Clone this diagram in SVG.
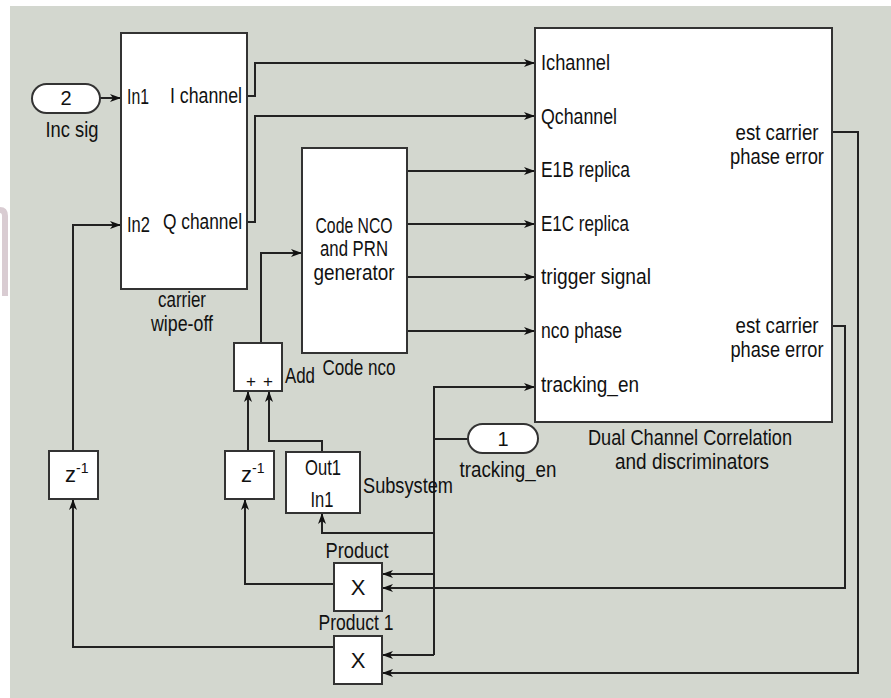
<svg xmlns="http://www.w3.org/2000/svg" width="891" height="698" viewBox="0 0 891 698">
<style>
text{font-family:"Liberation Sans",Arial,sans-serif;font-size:22px;fill:#111;}
.blk{fill:#fff;stroke:#333;stroke-width:2;}
.w{fill:none;stroke:#222;stroke-width:2;}
.mid{text-anchor:middle;}
.end{text-anchor:end;}
.sup{font-size:14px;}
.pl{font-size:17px;text-anchor:middle;}
</style>
<defs>
<marker id="ah" markerUnits="userSpaceOnUse" markerWidth="12" markerHeight="10" refX="11" refY="4" orient="auto">
<path d="M0,0 L11,4 L0,8 L3,4 z" fill="#111"/>
</marker>
</defs>
<rect x="0" y="0" width="891" height="698" fill="#fff"/>
<path d="M0,210 Q5,210 5,216 L5,296" fill="none" stroke="#d9ccd2" stroke-width="6"/>
<rect x="10" y="6" width="881" height="692" fill="#d3d7cf"/>

<g id="connectors">
<path class="w" d="M100,98 L121,98" marker-end="url(#ah)"/>
<path class="w" d="M247,96 L255,96 L255,63 L535,63" marker-end="url(#ah)"/>
<path class="w" d="M247,222 L255,222 L255,116 L535,116" marker-end="url(#ah)"/>
<path class="w" d="M407,171 L535,171" marker-end="url(#ah)"/>
<path class="w" d="M407,224 L535,224" marker-end="url(#ah)"/>
<path class="w" d="M407,277 L535,277" marker-end="url(#ah)"/>
<path class="w" d="M407,331 L535,331" marker-end="url(#ah)"/>
<path class="w" d="M468,439 L434,439"/>
<path class="w" d="M434,655 L434,387 L535,387" marker-end="url(#ah)"/>
<path class="w" d="M434,533 L322,533 L322,513" marker-end="url(#ah)"/>
<path class="w" d="M434,574 L382,574" marker-end="url(#ah)"/>
<path class="w" d="M434,655 L382,655" marker-end="url(#ah)"/>
<path class="w" d="M832,132 L858,132 L858,673 L382,673" marker-end="url(#ah)"/>
<path class="w" d="M832,326 L845,326 L845,588 L382,588" marker-end="url(#ah)"/>
<path class="w" d="M334,584 L245,584 L245,499" marker-end="url(#ah)"/>
<path class="w" d="M334,647 L73,647 L73,499" marker-end="url(#ah)"/>
<path class="w" d="M73,451 L73,225 L121,225" marker-end="url(#ah)"/>
<path class="w" d="M248,451 L248,391" marker-end="url(#ah)"/>
<path class="w" d="M322,452 L322,441 L269,441 L269,391" marker-end="url(#ah)"/>
<path class="w" d="M261,343 L261,253 L302,253" marker-end="url(#ah)"/>
</g>

<g id="inport2">
<rect class="blk" x="32" y="84" width="68" height="29" rx="14.5"/>
<text class="mid" x="66" y="105" style="font-size:20px">2</text>
<text class="mid" x="72" y="137" textLength="53" lengthAdjust="spacingAndGlyphs">Inc sig</text>
</g>

<g id="carrier">
<rect class="blk" x="121" y="33" width="126" height="256"/>
<text x="127" y="104" textLength="22" lengthAdjust="spacingAndGlyphs">In1</text>
<text class="end" x="242" y="103" textLength="72" lengthAdjust="spacingAndGlyphs">I channel</text>
<text x="127" y="232" textLength="23" lengthAdjust="spacingAndGlyphs">In2</text>
<text class="end" x="242" y="229" textLength="79" lengthAdjust="spacingAndGlyphs">Q channel</text>
<text class="mid" x="182" y="307" textLength="48" lengthAdjust="spacingAndGlyphs">carrier</text>
<text class="mid" x="182" y="331" textLength="62" lengthAdjust="spacingAndGlyphs">wipe-off</text>
</g>

<g id="codenco">
<rect class="blk" x="302" y="148" width="105" height="205"/>
<text class="mid" x="354" y="233" textLength="77" lengthAdjust="spacingAndGlyphs">Code NCO</text>
<text class="mid" x="354" y="256" textLength="68" lengthAdjust="spacingAndGlyphs">and PRN</text>
<text class="mid" x="354" y="280" textLength="81" lengthAdjust="spacingAndGlyphs">generator</text>
<text class="mid" x="359" y="375" textLength="73" lengthAdjust="spacingAndGlyphs">Code nco</text>
</g>

<g id="dual">
<rect class="blk" x="535" y="28" width="297" height="394"/>
<text x="541" y="70" textLength="69" lengthAdjust="spacingAndGlyphs">Ichannel</text>
<text x="541" y="124" textLength="76" lengthAdjust="spacingAndGlyphs">Qchannel</text>
<text x="541" y="177" textLength="89" lengthAdjust="spacingAndGlyphs">E1B replica</text>
<text x="541" y="231" textLength="88" lengthAdjust="spacingAndGlyphs">E1C replica</text>
<text x="541" y="284" textLength="110" lengthAdjust="spacingAndGlyphs">trigger signal</text>
<text x="541" y="338" textLength="81" lengthAdjust="spacingAndGlyphs">nco phase</text>
<text x="541" y="392" textLength="98" lengthAdjust="spacingAndGlyphs">tracking_en</text>
<text class="mid" x="777" y="140" textLength="83" lengthAdjust="spacingAndGlyphs">est carrier</text>
<text class="mid" x="777" y="164" textLength="94" lengthAdjust="spacingAndGlyphs">phase error</text>
<text class="mid" x="777" y="333" textLength="83" lengthAdjust="spacingAndGlyphs">est carrier</text>
<text class="mid" x="777" y="357" textLength="93" lengthAdjust="spacingAndGlyphs">phase error</text>
<text class="mid" x="690" y="445" textLength="204" lengthAdjust="spacingAndGlyphs">Dual Channel Correlation</text>
<text class="mid" x="692" y="469" textLength="154" lengthAdjust="spacingAndGlyphs">and discriminators</text>
</g>

<g id="add">
<rect class="blk" x="234" y="343" width="48" height="48"/>
<text class="pl" x="251" y="387">+</text>
<text class="pl" x="268" y="387">+</text>
<text x="285" y="383" textLength="30" lengthAdjust="spacingAndGlyphs">Add</text>
</g>

<g id="inport1">
<rect class="blk" x="468" y="424" width="70" height="29" rx="14.5"/>
<text class="mid" x="503" y="446" style="font-size:20px">1</text>
<text class="mid" x="508" y="477" textLength="97" lengthAdjust="spacingAndGlyphs">tracking_en</text>
</g>

<g id="delay1">
<rect class="blk" x="49" y="451" width="49" height="48"/>
<text x="65" y="482">z<tspan class="sup" dy="-9">-1</tspan></text>
</g>

<g id="delay2">
<rect class="blk" x="225" y="451" width="49" height="48"/>
<text x="241" y="482">z<tspan class="sup" dy="-9">-1</tspan></text>
</g>

<g id="subsystem">
<rect class="blk" x="286" y="452" width="74" height="61"/>
<text class="mid" x="323" y="475" textLength="36" lengthAdjust="spacingAndGlyphs">Out1</text>
<text class="mid" x="322" y="507" textLength="23" lengthAdjust="spacingAndGlyphs">In1</text>
<text x="363" y="493" textLength="90" lengthAdjust="spacingAndGlyphs">Subsystem</text>
</g>

<g id="product">
<rect class="blk" x="334" y="563" width="48" height="48"/>
<text class="mid" x="358" y="595">X</text>
<text class="mid" x="357" y="558" textLength="63" lengthAdjust="spacingAndGlyphs">Product</text>
</g>

<g id="product1">
<rect class="blk" x="334" y="636" width="48" height="48"/>
<text class="mid" x="358" y="668">X</text>
<text class="mid" x="356" y="630" textLength="75" lengthAdjust="spacingAndGlyphs">Product 1</text>
</g>
</svg>
